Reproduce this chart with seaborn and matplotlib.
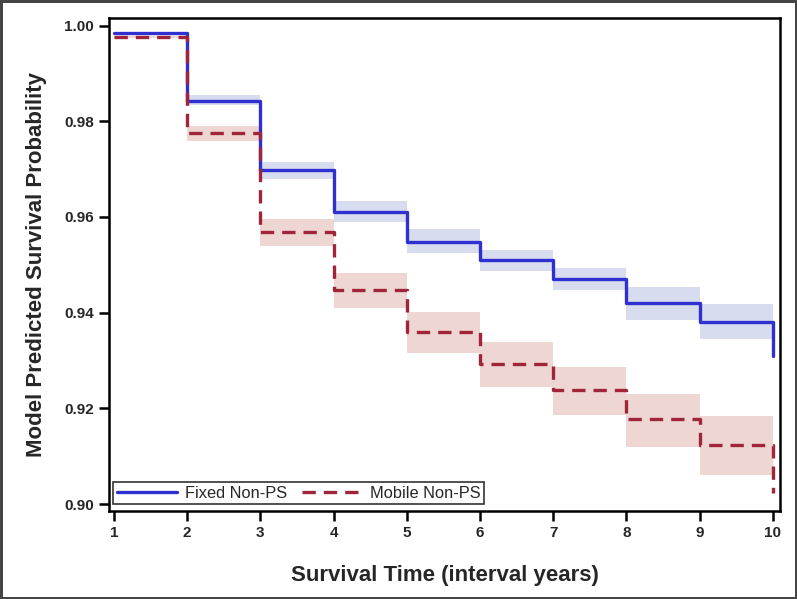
import numpy as np
import pandas as pd
import seaborn as sns
import matplotlib.pyplot as plt

# Interval start times (the last entry marks the end of follow-up)
time = [1, 2, 3, 4, 5, 6, 7, 8, 9, 10]

# Fixed Non-PS: predicted survival and confidence band
fixed_surv = [0.9985, 0.9843, 0.9698, 0.9611, 0.9548, 0.9510, 0.9470, 0.9420, 0.9381, 0.9309]
fixed_lo = [0.9983, 0.9834, 0.9679, 0.9589, 0.9524, 0.9487, 0.9447, 0.9385, 0.9344, 0.9344]
fixed_hi = [0.9987, 0.9855, 0.9714, 0.9634, 0.9574, 0.9531, 0.9493, 0.9454, 0.9418, 0.9418]

# Mobile Non-PS: predicted survival and confidence band
mobile_surv = [0.9976, 0.9776, 0.9568, 0.9447, 0.9359, 0.9293, 0.9238, 0.9177, 0.9123, 0.9023]
mobile_lo = [0.9974, 0.9759, 0.9540, 0.9409, 0.9315, 0.9245, 0.9186, 0.9119, 0.9061, 0.9061]
mobile_hi = [0.9978, 0.9791, 0.9595, 0.9482, 0.9401, 0.9339, 0.9287, 0.9230, 0.9183, 0.9183]

xticks = list(range(1, 11))
yticks = [0.90, 0.92, 0.94, 0.96, 0.98, 1.00]

groups = ["Fixed Non-PS", "Mobile Non-PS"]
line_colors = ["#3030D0", "#A0243A"]
band_colors = ["#D3DAEE", "#EDD3CE"]

df = pd.DataFrame({
    "time": time * 2,
    "surv": fixed_surv + mobile_surv,
    "group": [groups[0]] * len(time) + [groups[1]] * len(time),
})

sns.set_style("ticks")
plt.rcParams['font.family'] = ['Liberation Sans', 'DejaVu Sans']

fig = plt.figure(figsize=(7.97, 5.99), dpi=100)
fig.patch.set_edgecolor("#444444")
fig.patch.set_linewidth(2.5)
ax = fig.add_axes([0.1368, 0.1474, 0.8419, 0.822])

# confidence bands as step fills
for lo, hi, c in [(fixed_lo, fixed_hi, band_colors[0]), (mobile_lo, mobile_hi, band_colors[1])]:
    ax.fill_between(time, lo, hi, step="post", color=c, linewidth=0, alpha=0.9)

sns.lineplot(data=df, x="time", y="surv", hue="group", style="group",
             palette=line_colors, dashes={groups[0]: "", groups[1]: (4, 2.4)},
             drawstyle="steps-post", linewidth=2.4, ax=ax, estimator=None)

ax.set_xlim(0.932, 10.1)
ax.set_ylim(0.8986, 1.0015)
ax.set_xticks(xticks)
ax.set_yticks(yticks)
ax.set_yticklabels([f"{v:.2f}" for v in yticks])
ax.tick_params(axis="both", which="major", bottom=True, left=True, direction="out",
               length=7, width=1.8, color="black", labelsize=11, pad=4)
for lab in ax.get_xticklabels() + ax.get_yticklabels():
    lab.set_fontweight("bold")
for s in ax.spines.values():
    s.set_linewidth(1.8)
    s.set_color("black")

ax.set_xlabel("Survival Time (interval years)", fontsize=16, fontweight="bold", labelpad=18)
ax.set_ylabel("Model Predicted Survival Probability", fontsize=16, fontweight="bold", labelpad=12)

handles, labels = ax.get_legend_handles_labels()
leg = ax.legend(handles, labels, loc="lower left", ncol=2, frameon=True, fontsize=11.8,
                fancybox=False, edgecolor="black", borderpad=0.22, handlelength=3.7,
                columnspacing=0.9, handletextpad=0.45, bbox_to_anchor=(0.006, 0.013),
                borderaxespad=0.0)
leg.get_frame().set_linewidth(1.2)

fig.savefig("out.png", dpi=100, edgecolor=fig.get_edgecolor())
